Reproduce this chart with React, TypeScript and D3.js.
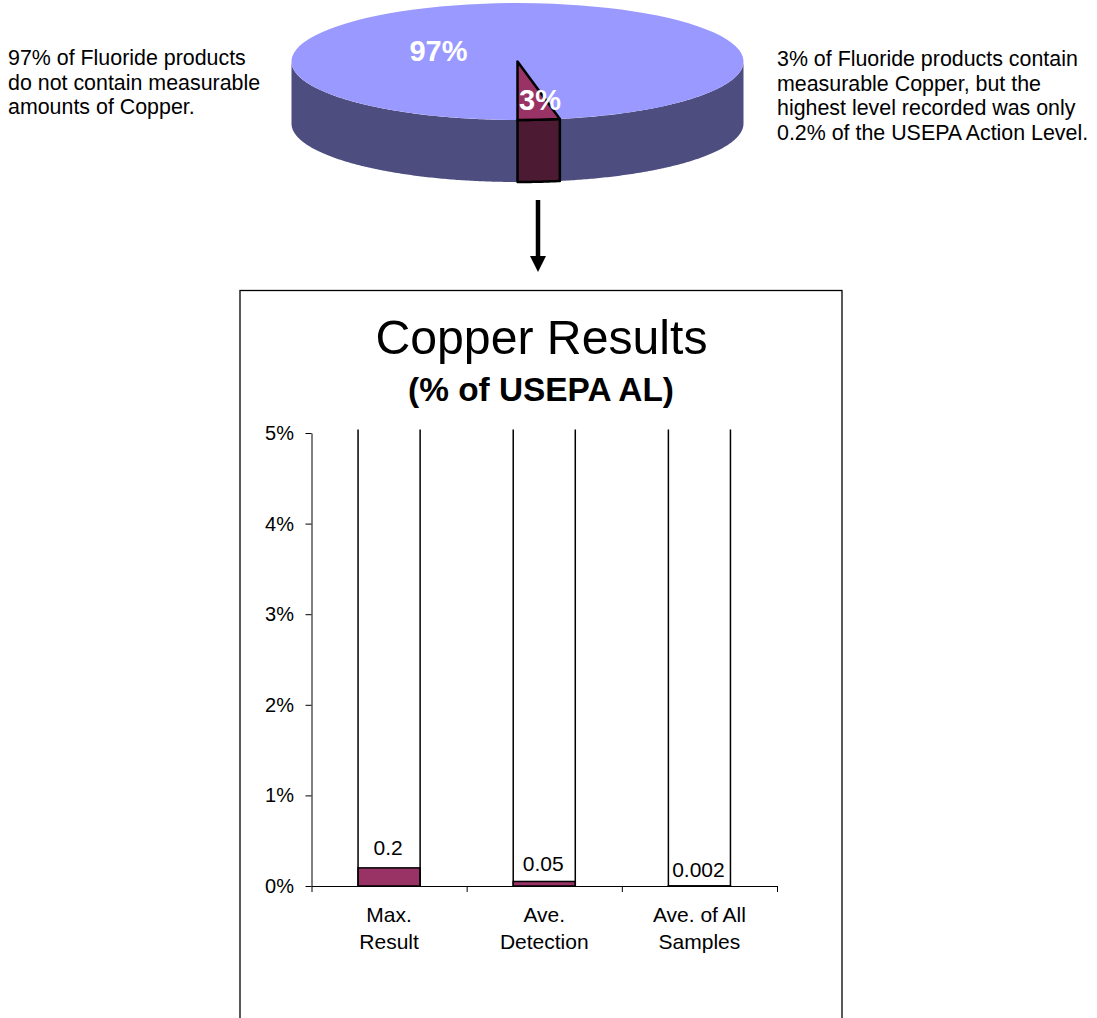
import { useEffect, useRef } from "react"
import * as d3 from "d3"

const shares = [3, 97]
const shareLabels = ["3%", "97%"]
const categories = ["Max. Result", "Ave. Detection", "Ave. of All Samples"]
const categoryLines = [["Max.", "Result"], ["Ave.", "Detection"], ["Ave. of All", "Samples"]]
const values = [0.2, 0.05, 0.002]
const valueLabels = ["0.2", "0.05", "0.002"]
const yTicks = [0, 1, 2, 3, 4, 5]
const leftNote = ["97% of Fluoride products", "do not contain measurable", "amounts of Copper."]
const rightNote = ["3% of Fluoride products contain", "measurable Copper, but the", "highest level recorded was only", "0.2% of the USEPA Action Level."]

const FONT = "'Liberation Sans', Arial, sans-serif"
const MAROON = "#993366"
const MAROON_DK = "#4d1a33"
const BLUE = "#9999ff"
const BLUE_DK = "#4d4d80"

export default function App() {
  const ref = useRef<SVGSVGElement>(null)
  useEffect(() => {
    if (!ref.current) return
    const svg = d3.select(ref.current)
    svg.selectAll("*").remove()

    // pie, flat circle squashed into an ellipse, 3% slice ends at 6 o'clock
    const cx = 517.5, cy = 61.5, rx = 226, ry = 58.5, depth = 62
    const sliceAngle = (2 * Math.PI * shares[0]) / d3.sum(shares)
    const pie = d3.pie<number>().sort(null).startAngle(Math.PI - sliceAngle).endAngle(3 * Math.PI - sliceAngle)
    const arcs = pie(shares)
    const arc = d3.arc<d3.PieArcDatum<number>>().innerRadius(0).outerRadius(rx)
    const pt = (a: number, dy: number): [number, number] => [cx + rx * Math.sin(a), cy - ry * Math.cos(a) + dy]
    const side = (a0: number, a1: number) => {
      const s = Math.max(a0, Math.PI / 2), e = Math.min(a1, (3 * Math.PI) / 2)
      const as = d3.range(s, e, 0.01).concat(e)
      return d3.line()([...as.map(a => pt(a, 0)), ...as.reverse().map(a => pt(a, depth))]) + "Z"
    }

    // blue first so the outlined slice sits on top
    const pieG = svg.append("g")
    const blueArc = arcs[1]
    pieG.append("path").attr("d", side(Math.PI, 3 * Math.PI / 2)).attr("fill", BLUE_DK)
    pieG.append("path").attr("d", side(Math.PI / 2, Math.PI - sliceAngle)).attr("fill", BLUE_DK)
    pieG.append("path").attr("transform", `translate(${cx},${cy}) scale(1,${ry / rx})`)
      .attr("d", arc(blueArc)!).attr("fill", BLUE)
    pieG.append("path").attr("d", side(arcs[0].startAngle, arcs[0].endAngle))
      .attr("fill", MAROON_DK).attr("stroke", "#000").attr("stroke-width", 2.5).attr("stroke-linejoin", "round")
    pieG.append("path").attr("transform", `translate(${cx},${cy}) scale(1,${ry / rx})`)
      .attr("d", arc(arcs[0])!).attr("fill", MAROON).attr("stroke", "#000").attr("stroke-width", 2.5)
      .attr("stroke-linejoin", "round").attr("vector-effect", "non-scaling-stroke")

    const pieLabelPos = [[540, 110], [438.5, 60.5]]
    shareLabels.forEach((t, i) => {
      svg.append("text").attr("x", pieLabelPos[i][0]).attr("y", pieLabelPos[i][1]).attr("text-anchor", "middle")
        .style("font", `bold 29px ${FONT}`).style("fill", "#fff").text(t)
    })

    const note = (lines: string[], x: number, y: number) => {
      svg.append("g").selectAll("text").data(lines).join("text")
        .attr("x", x).attr("y", (_, i) => y + i * 24.6)
        .style("font", `21.4px ${FONT}`).style("fill", "#000").text(d => d)
    }
    note(leftNote, 8, 65)
    note(rightNote, 777, 66)

    // arrow
    svg.append("line").attr("x1", 538).attr("x2", 538).attr("y1", 200).attr("y2", 258)
      .attr("stroke", "#000").attr("stroke-width", 4.5)
    svg.append("path").attr("d", d3.line()([[530, 256], [546, 256], [538, 272]])! + "Z").attr("fill", "#000")

    // chart box, runs off the bottom of the page
    svg.append("rect").attr("x", 240).attr("y", 290.5).attr("width", 602).attr("height", 800)
      .attr("fill", "#fff").attr("stroke", "#000").attr("stroke-width", 1.3)

    svg.append("text").attr("x", 541.5).attr("y", 354).attr("text-anchor", "middle")
      .style("font", `48.2px ${FONT}`).style("fill", "#000").text("Copper Results")
    svg.append("text").attr("x", 541).attr("y", 401).attr("text-anchor", "middle")
      .style("font", `bold 33.4px ${FONT}`).style("fill", "#000").text("(% of USEPA AL)")

    const x = d3.scaleBand().domain(categories).range([311.5, 777]).paddingInner(0.6).paddingOuter(0.3)
    const y = d3.scaleLinear().domain([0, 5]).range([886, 433])
    const xEdges = d3.scaleLinear().domain([0, categories.length]).range([311.5, 777])

    // bars: value part in maroon, open sides run just past the top of the axis
    categories.forEach((c, i) => {
      const bx = x(c)!
      svg.append("rect").attr("x", bx).attr("y", y(values[i])).attr("width", x.bandwidth()).attr("height", y(0) - y(values[i]))
        .attr("fill", MAROON).attr("stroke", "#000").attr("stroke-width", 1.5)
      ;[bx, bx + x.bandwidth()].forEach(lx => {
        svg.append("line").attr("x1", lx).attr("x2", lx).attr("y1", y(5) - 3.5).attr("y2", y(0))
          .attr("stroke", "#000").attr("stroke-width", 1.5)
      })
    })

    const yAxis = svg.append("g").attr("transform", "translate(311.5,0)")
      .call(d3.axisLeft(y).tickValues(yTicks).tickFormat(d => `${d}%`).tickSize(6).tickSizeOuter(0))
    yAxis.select(".domain").attr("stroke", "#000").attr("stroke-width", 1)
    yAxis.selectAll("text").attr("x", -17.5).style("font", `20px ${FONT}`).style("fill", "#000")

    const xAxis = svg.append("g").attr("transform", "translate(0,886)")
      .call(d3.axisBottom(xEdges).ticks(categories.length).tickFormat(() => "").tickSize(6).tickSizeOuter(0))
    xAxis.select(".domain").attr("stroke", "#000")

    const valueBaselines = [854.5, 871, 877]
    svg.append("g").selectAll("text").data(valueLabels).join("text")
      .attr("x", (_, i) => x(categories[i])! + x.bandwidth() / 2 - 1)
      .attr("y", (_, i) => valueBaselines[i]).attr("text-anchor", "middle")
      .style("font", `21px ${FONT}`).style("fill", "#000").text(d => d)

    categoryLines.forEach((lines, i) => {
      svg.append("g").selectAll("text").data(lines).join("text")
        .attr("x", x(categories[i])! + x.bandwidth() / 2).attr("y", (_, k) => 922 + k * 27)
        .attr("text-anchor", "middle").style("font", `21px ${FONT}`).style("fill", "#000").text(d => d)
    })
  }, [])
  return <svg ref={ref} width={1097} height={1018} style={{ position: "absolute", left: 0, top: 0, display: "block" }} />
}
